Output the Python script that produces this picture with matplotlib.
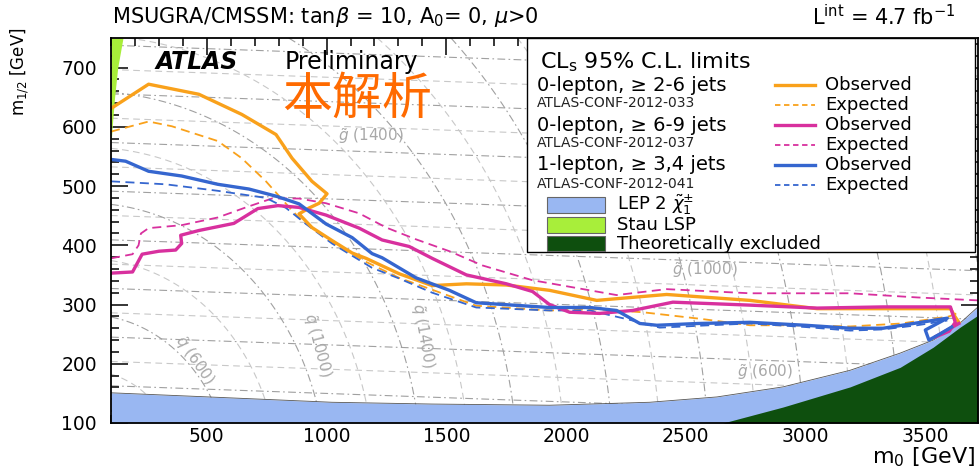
import numpy as np
import matplotlib.pyplot as plt
from matplotlib.patches import Rectangle
from matplotlib.lines import Line2D

plt.rcParams['font.family'] = ['DejaVu Sans']
plt.rcParams['mathtext.fontset'] = 'dejavusans'

# --- curves (m0, m1/2) in GeV ---
orange_obs_m0 = [100, 257, 467, 646, 789, 856, 939, 1002, 969, 927, 885, 939, 1023, 1107, 1165, 1303, 1441,
                 1584, 1750, 1931, 2128, 2420, 2768, 3048, 3300, 3605, 3625, 3640]
orange_obs_m12 = [631, 672, 655, 621, 587, 547, 508, 487, 471, 463, 453, 430, 408, 387, 378, 352, 332,
                  335, 333, 324, 307, 317, 307, 293, 293, 293, 279, 270]

orange_exp_m0 = [100, 257, 354, 546, 646, 747, 831, 898, 960, 1023, 1165, 1303, 1441, 1625, 1931, 2130, 2320,
                 2559, 2768, 2950, 3186, 3400, 3600, 3630]
orange_exp_m12 = [592, 609, 601, 576, 547, 508, 470, 441, 425, 405, 372, 345, 325, 298, 290, 292, 287,
                  276, 265, 265, 263, 268, 280, 285]

pink_obs_m0 = [100, 190, 230, 300, 370, 395, 391, 467, 613, 713, 797, 885, 998, 1136, 1232, 1345, 1441, 1584,
               1751, 1860, 1931, 2015, 2140, 2278, 2446, 2768, 3048, 3324, 3605, 3625, 3600, 3540, 3570, 3640]
pink_obs_m12 = [353, 355, 385, 390, 392, 403, 417, 425, 437, 462, 467, 464, 451, 429, 409, 398, 378, 350,
                335, 322, 300, 287, 285, 290, 304, 299, 294, 296, 296, 270, 255, 245, 252, 268]

pink_exp_m0 = [100, 190, 215, 225, 257, 395, 546, 663, 772, 885, 998, 1136, 1249, 1374, 1513, 1651, 1860,
               1931, 2211, 2420, 2768, 3186, 3466, 3720]
pink_exp_m12 = [378, 385, 400, 420, 429, 434, 447, 464, 479, 479, 471, 454, 430, 410, 390, 366, 341,
                336, 316, 326, 319, 319, 312, 307]

blue_obs_m0 = [100, 161, 257, 395, 546, 676, 789, 885, 998, 1107, 1190, 1232, 1374, 1513, 1625, 1931, 2100,
               2211, 2308, 2379, 2550, 2768, 3000, 3186, 3324, 3450, 3592, 3500, 3515, 3560, 3610]
blue_obs_m12 = [545, 542, 525, 517, 503, 495, 483, 470, 436, 413, 386, 379, 345, 324, 303, 295, 295,
                290, 268, 265, 268, 270, 265, 260, 260, 268, 277, 257, 240, 250, 262]

blue_exp_m0 = [100, 328, 546, 747, 831, 914, 1023, 1190, 1303, 1441, 1625, 1931, 2100, 2278, 2391, 2600,
               2768, 3000, 3186, 3324, 3466, 3592]
blue_exp_m12 = [508, 503, 492, 480, 463, 436, 403, 362, 344, 320, 295, 290, 290, 273, 261, 265,
                268, 262, 256, 258, 265, 273]

lep_m0 = [100, 508, 1023, 1441, 1931, 2349, 2630, 2906, 3186, 3395, 3533, 3646, 3720]
lep_m12 = [151, 144, 135, 132, 130, 135, 144, 161, 189, 218, 240, 269, 296]

theo_m0 = [2655, 2906, 3186, 3395, 3533, 3646, 3720]
theo_m12 = [100, 127, 161, 194, 228, 262, 282]

stau_m12 = [570, 600, 650, 700, 750]
stau_m0 = [100, 105, 115, 128, 150]

# iso-mass contour levels (GeV)
gluino_levels = [300, 400, 500, 600, 700, 800, 900, 1000, 1100, 1200, 1300, 1400, 1500, 1600, 1700, 1800, 1900]
squark_levels = [400, 600, 800, 1000, 1200, 1400, 1600, 1800, 2000, 2200, 2400, 2600, 2800, 3000, 3200,
                 3400, 3600, 3800, 4000]

c_orange = '#F9A11B'
c_pink = '#D8309E'
c_blue = '#3566CF'
c_lep = '#99B7F2'
c_stau = '#A8EE3A'
c_theo = '#0E4F0E'

fig = plt.figure(figsize=(9.8, 4.67), dpi=100)
ax = fig.add_axes([111 / 980, 1 - 423 / 467, 867 / 980, 385 / 467])
ax.set_xlim(100, 3720)
ax.set_ylim(100, 750)

# background mass contours (approximate mSUGRA relations)
M0, M12 = np.meshgrid(np.linspace(100, 3720, 300), np.linspace(100, 750, 200))
m_gluino = 2.435 * M12 + 0.035 * M0
m_squark = np.sqrt(M0 ** 2 + 4.5 * M12 ** 2)
g_main = [l for l in gluino_levels if l % 200 == 0]
g_aux = [l for l in gluino_levels if l % 200 != 0]
q_main = [l for l in squark_levels if (l - 600) % 400 == 0]
q_aux = [l for l in squark_levels if (l - 600) % 400 != 0]
ax.contour(M0, M12, m_gluino, levels=g_main, colors='#a0a0a0', linewidths=0.8, linestyles=[(0, (7, 3, 1.5, 3))], zorder=1)
ax.contour(M0, M12, m_gluino, levels=g_aux, colors='#c8c8c8', linewidths=0.8, linestyles=[(0, (6, 4))], zorder=1)
ax.contour(M0, M12, m_squark, levels=q_main, colors='#a0a0a0', linewidths=0.8, linestyles=[(0, (7, 3, 1.5, 3))], zorder=1)
ax.contour(M0, M12, m_squark, levels=q_aux, colors='#c8c8c8', linewidths=0.8, linestyles=[(0, (6, 4))], zorder=1)

lab = dict(color='#a8a8a8', fontsize=11, ha='center', va='center', zorder=2)
ax.text(1186, 585, r'$\tilde{g}$ (1400)', **lab)
ax.text(2580, 358, r'$\tilde{g}$ (1000)', **lab)
ax.text(2831, 186, r'$\tilde{g}$ (600)', **lab)
ax.text(446, 206, r'$\tilde{q}$ (600)', rotation=-55, **lab)
ax.text(960, 232, r'$\tilde{q}$ (1000)', rotation=-75, **lab)
ax.text(1401, 248, r'$\tilde{q}$ (1400)', rotation=-80, **lab)

# excluded regions
ax.fill_between(lep_m0, 100, lep_m12, color=c_lep, lw=0, zorder=3)
ax.plot(lep_m0, lep_m12, color='#555555', lw=0.6, zorder=3)
ax.fill_between(theo_m0, 100, theo_m12, color=c_theo, lw=0, zorder=4)
ax.fill_betweenx(stau_m12, 100, stau_m0, color=c_stau, lw=0, zorder=3)

# limit curves
ax.plot(orange_exp_m0, orange_exp_m12, color=c_orange, lw=1.3, ls=(0, (5, 3)), zorder=5)
ax.plot(pink_exp_m0, pink_exp_m12, color=c_pink, lw=1.3, ls=(0, (5, 3)), zorder=5)
ax.plot(blue_exp_m0, blue_exp_m12, color=c_blue, lw=1.3, ls=(0, (5, 3)), zorder=5)
ax.plot(orange_obs_m0, orange_obs_m12, color=c_orange, lw=2.4, zorder=6)
ax.plot(pink_obs_m0, pink_obs_m12, color=c_pink, lw=2.4, zorder=6)
ax.plot(blue_obs_m0, blue_obs_m12, color=c_blue, lw=2.4, zorder=6)

# axes style
ax.set_xticks([500, 1000, 1500, 2000, 2500, 3000, 3500])
ax.set_yticks([100, 200, 300, 400, 500, 600, 700])
ax.set_xticks(np.arange(100, 3720, 100), minor=True)
ax.set_yticks(np.arange(100, 751, 20), minor=True)
ax.tick_params(which='both', direction='in', top=True, right=True, labelsize=13.5, width=1.1)
ax.tick_params(which='major', length=12)
ax.tick_params(axis='x', which='major', pad=3)
ax.tick_params(axis='y', which='major', pad=10)
ax.tick_params(which='minor', length=6)
for s in ax.spines.values():
    s.set_linewidth(1.3)
    s.set_zorder(10)

# legend box (manual layout)
T = ax.transAxes
ax.add_patch(Rectangle((0.480, 0.444), 0.5165, 0.556, transform=T, fc='white', ec='black', lw=1.0, zorder=8))
ax.text(0.495, 0.938, r'CL$_{\rm s}$ 95% C.L. limits', transform=T, fontsize=16, va='center', zorder=9)
groups = [('0-lepton, \u2265 2-6 jets', 'ATLAS-CONF-2012-033', c_orange, 0.877, 0.826),
          ('0-lepton, \u2265 6-9 jets', 'ATLAS-CONF-2012-037', c_pink, 0.774, 0.722),
          ('1-lepton, \u2265 3,4 jets', 'ATLAS-CONF-2012-041', c_blue, 0.671, 0.617)]
for name, ref, col, y1, y2 in groups:
    ax.text(0.491, y1, name, transform=T, fontsize=14, va='center', zorder=9)
    ax.text(0.491, y2 + 0.004, ref, transform=T, fontsize=10, va='center', color='#222222', zorder=9)
    ax.add_line(Line2D([0.766, 0.812], [y1, y1], transform=T, color=col, lw=2.4, zorder=9))
    ax.add_line(Line2D([0.766, 0.812], [y2, y2], transform=T, color=col, lw=1.3, ls=(0, (3, 2)), zorder=9))
    ax.text(0.824, y1, 'Observed', transform=T, fontsize=13, va='center', zorder=9)
    ax.text(0.824, y2, 'Expected', transform=T, fontsize=13, va='center', zorder=9)
boxes = [(r'LEP 2 $\tilde{\chi}_1^{\pm}$', c_lep, 0.566), ('Stau LSP', c_stau, 0.514),
         ('Theoretically excluded', c_theo, 0.466)]
for name, col, yc in boxes:
    ax.add_patch(Rectangle((0.503, yc - 0.02), 0.067, 0.04, transform=T, fc=col, ec='#666666', lw=0.8, zorder=9))
    ax.text(0.584, yc, name, transform=T, fontsize=13, va='center', zorder=9)

ax.text(0.051, 0.938, 'ATLAS', transform=T, fontsize=17, fontweight='bold', style='italic', va='center', zorder=9)
ax.text(0.2007, 0.938, 'Preliminary', transform=T, fontsize=17, va='center', zorder=9)
ax.text(0.284, 0.839, '本解析', transform=T, fontsize=36, color='#FF6A00', ha='center', va='center',
        family=['Noto Sans CJK SC', 'DejaVu Sans'], zorder=9)

fig.text(112 / 980, 1 - 17 / 467, r'MSUGRA/CMSSM: tan$\beta$ = 10, A$_{\rm 0}$= 0, $\mu$>0', fontsize=15, va='center')
fig.text(955 / 980, 1 - 17 / 467, r'L$^{\rm int}$ = 4.7 fb$^{-1}$', fontsize=15, va='center', ha='right')
fig.text(20 / 980, 1 - 72 / 467, r'm$_{\rm 1/2}$ [GeV]', fontsize=12, rotation=90, ha='center', va='center')
fig.text(975 / 980, 1 - 457 / 467, r'm$_{\rm 0}$ [GeV]', fontsize=16, ha='right', va='center')

fig.savefig('out.png', dpi=100)
